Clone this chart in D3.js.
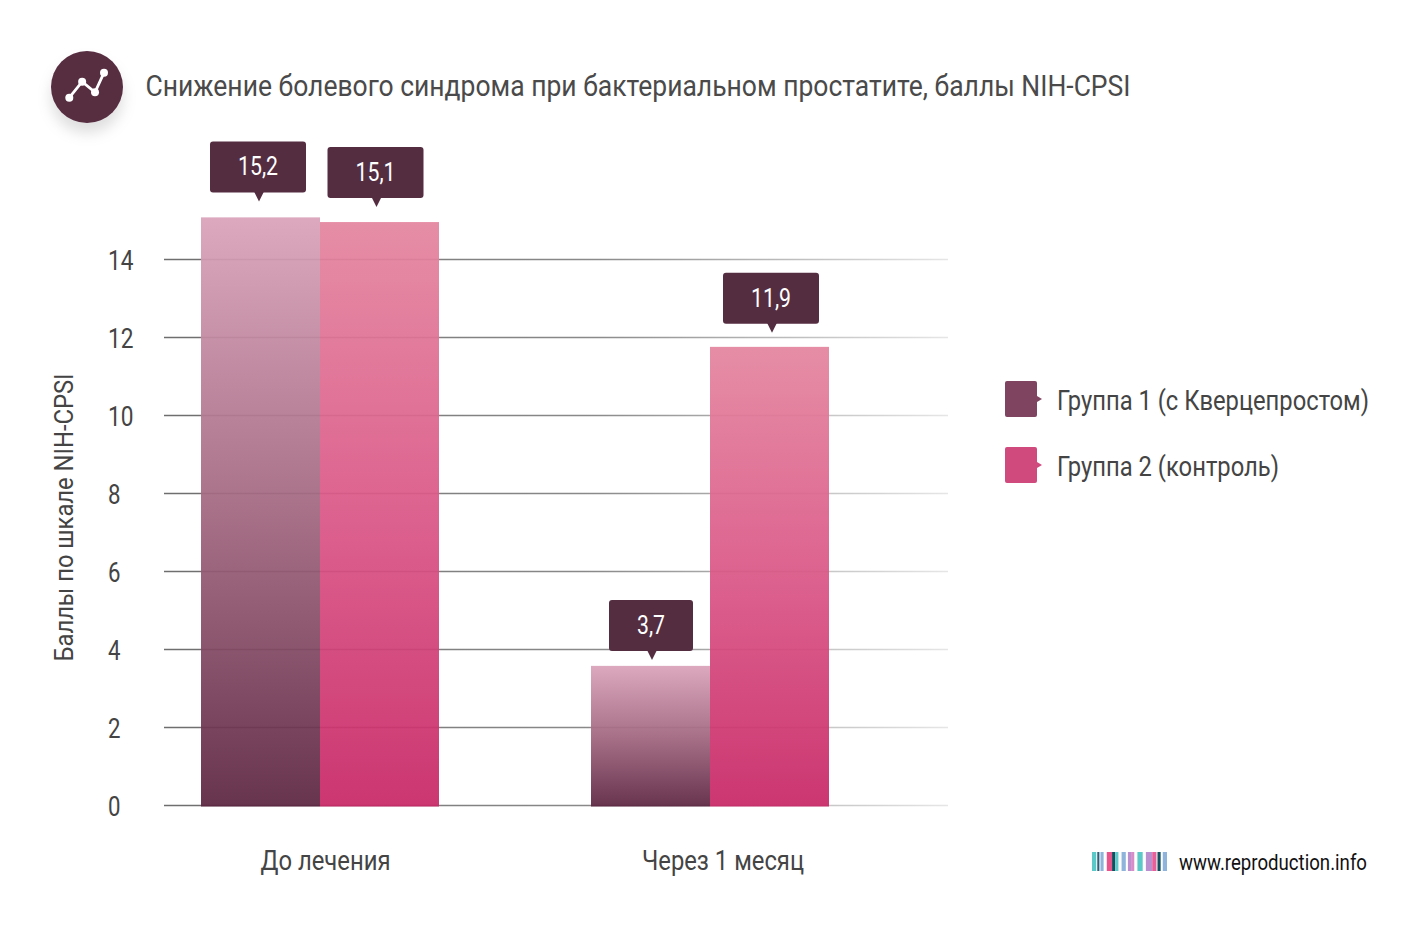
<!DOCTYPE html>
<html lang="ru">
<head>
<meta charset="UTF-8">
<title>Снижение болевого синдрома</title>
<script src="https://d3js.org/d3.v7.min.js"></script>
<style>
  html, body { margin: 0; background: #fff; }
  svg { display: block; }
  text { font-family: "Roboto", sans-serif; fill: #444; }
</style>
</head>
<body>
<div id="chart"></div>
<script>
const titleText = "Снижение болевого синдрома при бактериальном простатите, баллы NIH-CPSI";
const yAxisTitle = "Баллы по шкале NIH-CPSI";
const siteText = "www.reproduction.info";
const groups = ["До лечения", "Через 1 месяц"];
const seriesNames = ["Группа 1 (с Кверцепростом)", "Группа 2 (контроль)"];
const yTicks = [0, 2, 4, 6, 8, 10, 12, 14];
// bar heights as drawn in the picture (a bit under their printed labels)
const group1Values = [15.08, 3.58];
const group2Values = [14.96, 11.76];
const group1Labels = ["15,2", "3,7"];
const group2Labels = ["15,1", "11,9"];
const iconLine = [[0, 0], [1, 1.25], [2, 0.42], [2.7, 1.95]];
const stripeColors = ["#5cc9c9", "#2f5f78", "#8fb4dc", "#e8538a", "#12505f", "#5fc8c8", "#8fb4dc",
  "#b98fd0", "#d88cc8", "#5cc9c9", "#b98fd0", "#e8609a", "#12505f", "#8fb4dc"];
const stripeWidths = [4, 2, 3, 5, 3, 3, 4, 3, 3, 5, 6, 4, 3, 4];
const stripeGaps = [1, 1, 3, 0, 0, 3, 2, 0, 3, 3, 0, 1, 2, 0];

const width = 1428, height = 933;
const svg = d3.select("#chart").append("svg").attr("width", width).attr("height", height);
const defs = svg.append("defs");

const y = d3.scaleLinear().domain([0, 14]).range([805.5, 259.5]);
const xGroup = d3.scalePoint().domain(groups).range([320, 710]);
const xLabel = d3.scalePoint().domain(groups).range([325.5, 723]);
const xSeries = d3.scaleBand().domain([0, 1]).range([-119, 119]);

function barGradient(id, top, mid, bottom) {
  const g = defs.append("linearGradient").attr("id", id).attr("x1", 0).attr("x2", 0).attr("y1", 0).attr("y2", 1);
  g.append("stop").attr("offset", "0%").attr("stop-color", top);
  g.append("stop").attr("offset", "50%").attr("stop-color", mid);
  g.append("stop").attr("offset", "100%").attr("stop-color", bottom);
}
barGradient("g1", "#d9a2b9", "#a1667f", "#5c2541");
barGradient("g2", "#e4859f", "#da5686", "#c82766");

const gridFade = defs.append("linearGradient").attr("id", "gridFade")
  .attr("gradientUnits", "userSpaceOnUse").attr("x1", 164).attr("x2", 948).attr("y1", 0).attr("y2", 0);
gridFade.append("stop").attr("offset", "0%").attr("stop-color", "#6e6e6e");
gridFade.append("stop").attr("offset", "55%").attr("stop-color", "#8a8a8a");
gridFade.append("stop").attr("offset", "100%").attr("stop-color", "#e6e6e6");

const shadow = defs.append("filter").attr("id", "iconShadow")
  .attr("x", "-40%").attr("y", "-40%").attr("width", "180%").attr("height", "190%");
shadow.append("feDropShadow").attr("dx", 0).attr("dy", 10).attr("stdDeviation", 7)
  .attr("flood-color", "#000").attr("flood-opacity", 0.13);

// squeeze Roboto to the condensed look of the original
function fit(sel, len) {
  sel.attr("textLength", len).attr("lengthAdjust", "spacingAndGlyphs");
}

// header icon
const icon = svg.append("g").attr("transform", "translate(87,87)");
icon.append("circle").attr("r", 36).attr("fill", "#572d41").attr("filter", "url(#iconShadow)");
const iconX = d3.scaleLinear().domain([0, 2.7]).range([-17.7, 17]);
const iconY = d3.scaleLinear().domain([0, 1.95]).range([10.7, -14.3]);
icon.append("path").attr("fill", "none").attr("stroke", "#fff").attr("stroke-width", 2.8)
  .attr("d", d3.line().x(d => iconX(d[0])).y(d => iconY(d[1]))(iconLine));
icon.selectAll(".dot").data(iconLine).join("circle").attr("class", "dot")
  .attr("cx", d => iconX(d[0])).attr("cy", d => iconY(d[1])).attr("r", 4).attr("fill", "#fff");

svg.append("text").attr("x", 145.5).attr("y", 96).attr("font-size", 30).style("fill", "#4a4a4a")
  .text(titleText).call(fit, 985);

// axis + grid
const axis = svg.append("g").attr("transform", "translate(164,0)")
  .call(d3.axisLeft(y).tickValues(yTicks).tickSize(0).tickPadding(30).tickFormat(d3.format("d")));
axis.select(".domain").remove();
axis.selectAll("text").attr("font-size", 27).attr("font-family", "Roboto").attr("fill", "#444").attr("dy", "0.36em")
  .attr("text-anchor", "start").attr("x", -56)
  .each(function (d) { d3.select(this).call(fit, d > 9 ? 25.5 : 12.5); });

svg.append("g").selectAll("line").data(yTicks).join("line")
  .attr("x1", 164).attr("x2", 948).attr("y1", d => y(d)).attr("y2", d => y(d) + 0.01)
  .attr("stroke", "url(#gridFade)").attr("stroke-width", 1.6);

svg.append("text").attr("transform", "translate(73,517.5) rotate(-90)").attr("text-anchor", "middle")
  .attr("font-size", 26).text(yAxisTitle).call(fit, 288);

// bars
const barRows = groups.flatMap((g, i) => [
  { group: g, s: 0, v: group1Values[i], label: group1Labels[i] },
  { group: g, s: 1, v: group2Values[i], label: group2Labels[i] }
]);
const barBottom = 806.5;
svg.append("g").selectAll("rect").data(barRows).join("rect")
  .attr("x", d => xGroup(d.group) + xSeries(d.s))
  .attr("width", xSeries.bandwidth())
  .attr("y", d => y(d.v))
  .attr("height", d => barBottom - y(d.v))
  .attr("fill", d => d.s === 0 ? "url(#g1)" : "url(#g2)")
  .attr("fill-opacity", 0.93);

// callouts: shift and gap differ a little per bar in the original
const calloutShift = [-2.5, -4, 0.5, 1.5];
const calloutGap = [16, 15, 6, 14];
const callouts = svg.append("g").selectAll("g").data(barRows).join("g")
  .attr("transform", (d, i) => `translate(${xGroup(d.group) + xSeries(d.s) + xSeries.bandwidth() / 2 + calloutShift[i]},${y(d.v) - calloutGap[i]})`);
callouts.append("path").attr("fill", "#542d41").attr("d", "M-4,-10L6,-10L1,0Z");
callouts.append("rect").attr("fill", "#542d41").attr("rx", 3)
  .attr("x", d => d.label.length > 3 ? -48 : -42)
  .attr("width", d => d.label.length > 3 ? 96 : 84)
  .attr("y", -60).attr("height", 51);
callouts.append("text").attr("text-anchor", "middle").attr("y", -26).attr("font-size", 25)
  .style("fill", "#fff").text(d => d.label)
  .each(function (d) { d3.select(this).call(fit, d.label.length > 3 ? 40 : 28); });

// category labels
svg.append("g").selectAll("text").data(groups).join("text")
  .attr("x", d => xLabel(d)).attr("y", 870).attr("text-anchor", "middle").attr("font-size", 27)
  .text(d => d).each(function (d, i) {
    d3.select(this).call(fit, [130, 162][i]);
  });

// legend
const legendColor = ["#7f4560", "#d04a7e"];
const legend = svg.append("g").selectAll("g").data(seriesNames).join("g")
  .attr("transform", (d, i) => `translate(1005,${381 + i * 66})`);
legend.append("rect").attr("width", 32).attr("height", 36).attr("rx", 2).attr("fill", (d, i) => legendColor[i]);
legend.append("path").attr("d", "M32,15L37,18L32,21Z").attr("fill", (d, i) => legendColor[i]);
legend.append("text").attr("x", 52).attr("y", 29).attr("font-size", 27).text(d => d)
  .each(function (d, i) { d3.select(this).call(fit, [312, 222][i]); });

// footer
const stripeStart = d3.cumsum(stripeWidths.map((w, i) => w + stripeGaps[i]));
const stripeX = d3.scaleLinear().domain([0, d3.sum(stripeWidths) + d3.sum(stripeGaps)]).range([1092, 1167]);
svg.append("g").selectAll("rect").data(stripeColors).join("rect")
  .attr("x", (d, i) => stripeX(i ? stripeStart[i - 1] : 0))
  .attr("width", (d, i) => stripeX(stripeWidths[i]) - stripeX(0))
  .attr("y", 852).attr("height", 19).attr("fill", d => d);
svg.append("text").attr("x", 1179).attr("y", 870).attr("font-size", 22).style("fill", "#111")
  .text(siteText).call(fit, 188);
</script>
</body>
</html>
